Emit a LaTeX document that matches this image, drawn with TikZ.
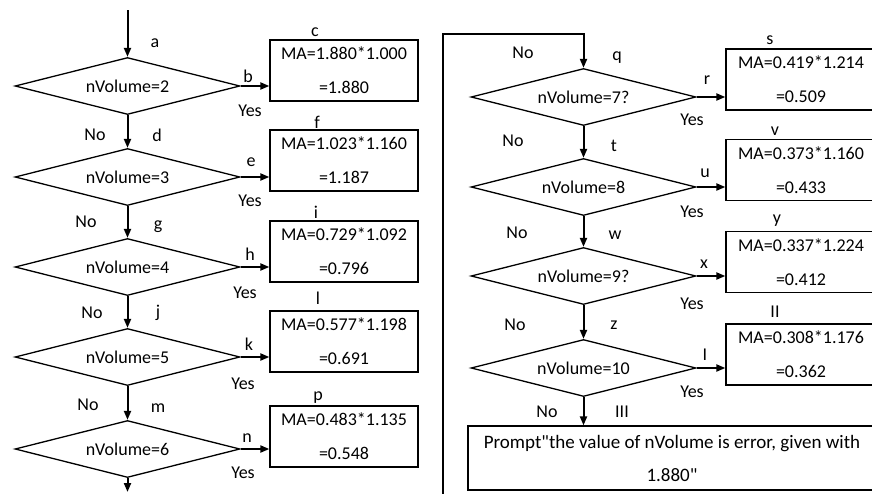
\documentclass[tikz,border=0pt]{standalone}
\usepackage{fontspec}
\setmainfont{Carlito}[Ligatures=TeXOff]
\usetikzlibrary{shapes.geometric,arrows.meta}
\begin{document}
\begin{tikzpicture}[x=1pt,y=-1pt,
  decision/.style={diamond, draw, line width=1.3pt, aspect=3.95,
    minimum width=225pt, minimum height=57pt, inner sep=0pt,
    font=\fontsize{18}{21}\selectfont},
  resultbox/.style={rectangle, draw, line width=1.3pt, minimum width=148pt,
    minimum height=61pt, align=center, inner sep=0pt,
    font=\fontsize{18}{34}\selectfont},
  flow/.style={-{Triangle[length=9pt,width=7pt]}, line width=2pt},
  tag/.style={inner sep=0pt, font=\fontsize{18}{21}\selectfont}]
\useasboundingbox (0,0) rectangle (872,493);

% ---- left column: decisions 2..6 ----
\node[decision] (d2) at (127.5,86)  {nVolume=2};
\node[decision] (d3) at (127.5,177) {nVolume=3};
\node[decision] (d4) at (127.5,267) {nVolume=4};
\node[decision] (d5) at (127.5,357) {nVolume=5};
\node[decision] (d6) at (127.5,449) {nVolume=6};

\node[resultbox] (b2) at (344,70.5)  {MA=1.880*1.000\\=1.880};
\node[resultbox] (b3) at (344,160.5) {MA=1.023*1.160\\=1.187};
\node[resultbox] (b4) at (344,251.5) {MA=0.729*1.092\\=0.796};
\node[resultbox] (b5) at (344,341.5) {MA=0.577*1.198\\=0.691};
\node[resultbox] (b6) at (344,436.5) {MA=0.483*1.135\\=0.548};

\coordinate (entry) at (127.5,10);
\coordinate (leftout) at (127.5,492);
\draw[flow] (entry) -- (d2.north);
\draw[flow] (d2.south) -- (d3.north);
\draw[flow] (d3.south) -- (d4.north);
\draw[flow] (d4.south) -- (d5.north);
\draw[flow] (d5.south) -- (d6.north);
\draw[flow] (d6.south) -- (leftout);
\foreach \i in {2,...,6}
  \draw[flow] (d\i.east) -- (b\i.west |- d\i.east);

\node[tag] (la) at (155,43)  {a};
\node[tag] (lb) at (248,76)  {b};
\node[tag] (ly2) at (250,111) {Yes};
\node[tag] (lc) at (315,32)  {c};
\node[tag] (ln3) at (95,135) {No};
\node[tag] (ld) at (157,135) {d};
\node[tag] (le) at (251,162) {e};
\node[tag] (ly3) at (250,201) {Yes};
\node[tag] (lf) at (317,122) {f};
\node[tag] (ln4) at (86,222) {No};
\node[tag] (lg) at (158,227) {g};
\node[tag] (lh) at (250,254) {h};
\node[tag] (ly4) at (245,293) {Yes};
\node[tag] (li) at (316,212) {i};
\node[tag] (ln5) at (92,313) {No};
\node[tag] (lj) at (158,313) {j};
\node[tag] (lk) at (249,344) {k};
\node[tag] (ly5) at (243,384) {Yes};
\node[tag] (ll) at (318,298) {l};
\node[tag] (ln6) at (88,405) {No};
\node[tag] (lm) at (158,408) {m};
\node[tag] (lnn) at (247,438) {n};
\node[tag] (ly6) at (243,473) {Yes};
\node[tag] (lp) at (318,398) {p};

% ---- right column: decisions 7..10 ----
\node[decision] (d7)  at (583.5,97)  {nVolume=7?};
\node[decision] (d8)  at (583.5,187) {nVolume=8};
\node[decision] (d9)  at (583.5,276) {nVolume=9?};
\node[decision] (d10) at (583.5,368) {nVolume=10};

\node[resultbox, minimum width=150pt] (b7)  at (801,79.5)  {MA=0.419*1.214\\=0.509};
\node[resultbox, minimum width=150pt] (b8)  at (801,170)   {MA=0.373*1.160\\=0.433};
\node[resultbox, minimum width=150pt] (b9)  at (801,262)   {MA=0.337*1.224\\=0.412};
\node[resultbox, minimum width=150pt] (b10) at (801,354.5) {MA=0.308*1.176\\=0.362};

\node[resultbox, minimum width=408pt, minimum height=64pt,
  font=\fontsize{19}{33}\selectfont] (err) at (672,458)
  {Prompt"the value of nVolume is error, given with\\1.880"};

\coordinate (loopfoot) at (443,494);
\coordinate (loopcorner) at (443,34);
\draw[flow] (loopfoot) -- (loopcorner) -| (d7.north);
\draw[flow] (d7.south) -- (d8.north);
\draw[flow] (d8.south) -- (d9.north);
\draw[flow] (d9.south) -- (d10.north);
\draw[flow] (d10.south) -- (d10.south |- err.north);
\foreach \i in {7,...,10}
  \draw[flow] (d\i.east) -- (b\i.west |- d\i.east);

\node[tag] (ln7) at (523,53)  {No};
\node[tag] (lq)  at (617,58)  {q};
\node[tag] (lr)  at (707,80)  {r};
\node[tag] (ly7) at (692,120) {Yes};
\node[tag] (ls)  at (770,40)  {s};
\node[tag] (ln8) at (513,141) {No};
\node[tag] (lt)  at (614,146) {t};
\node[tag] (lu)  at (705,173) {u};
\node[tag] (ly8) at (692,212) {Yes};
\node[tag] (lv)  at (775,131) {v};
\node[tag] (ln9) at (517,233) {No};
\node[tag] (lw)  at (615,235) {w};
\node[tag] (lx)  at (704,264) {x};
\node[tag] (ly9) at (692,304) {Yes};
\node[tag] (lyy) at (777,221) {y};
\node[tag] (ln10) at (515,325) {No};
\node[tag] (lz)  at (614,325) {z};
\node[tag] (lI)  at (705,355) {I};
\node[tag] (ly10) at (692,392) {Yes};
\node[tag] (lII) at (775,312) {II};
\node[tag] (ln11) at (547,412) {No};
\node[tag] (lIII) at (622,412) {III};
\end{tikzpicture}
\end{document}
